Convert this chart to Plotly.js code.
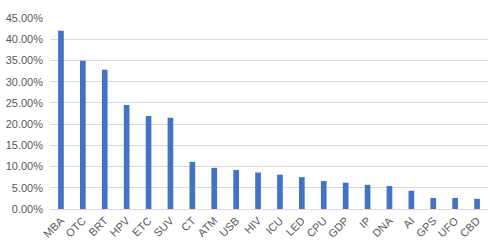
<!DOCTYPE html>
<html>
<head>
<meta charset="utf-8">
<script src="https://cdn.plot.ly/plotly-3.0.1.min.js"></script>
<style>html,body{margin:0;padding:0;background:#fff;}#chart{width:496px;height:251px;}</style>
</head>
<body>
<div id="chart"></div>
<script>
const categories = ["MBA","OTC","BRT","HPV","ETC","SUV","CT","ATM","USB","HIV","ICU","LED","CPU","GDP","IP","DNA","AI","GPS","UFO","CBD"];
const values = [0.420,0.349,0.328,0.245,0.219,0.215,0.111,0.097,0.092,0.086,0.081,0.075,0.066,0.062,0.057,0.054,0.043,0.026,0.026,0.024];
const yTicks = [0,0.05,0.10,0.15,0.20,0.25,0.30,0.35,0.40,0.45];

Plotly.newPlot('chart', [{
  type: 'bar',
  x: categories,
  y: values,
  marker: {color: '#4472C4'},
  hoverinfo: 'skip'
}], {
  width: 496, height: 251,
  margin: {l: 50, r: 8, t: 18, b: 42},
  bargap: 0.74,
  paper_bgcolor: '#fff', plot_bgcolor: '#fff',
  font: {family: 'Liberation Sans, Arial, sans-serif', size: 11, color: '#595959'},
  xaxis: {
    tickangle: -45, showgrid: false, showline: true, linecolor: '#D9D9D9', linewidth: 1,
    ticks: '', tickfont: {size: 11, color: '#595959'}
  },
  yaxis: {
    range: [0, 0.45], tickvals: yTicks, tickformat: '.2%',
    showgrid: true, gridcolor: '#D9D9D9', gridwidth: 1, zeroline: false,
    showline: false, ticks: '', ticklabelstandoff: 6,
    tickfont: {size: 11, color: '#595959'}
  },
  showlegend: false
}, {staticPlot: true, displayModeBar: false});
</script>
</body>
</html>
